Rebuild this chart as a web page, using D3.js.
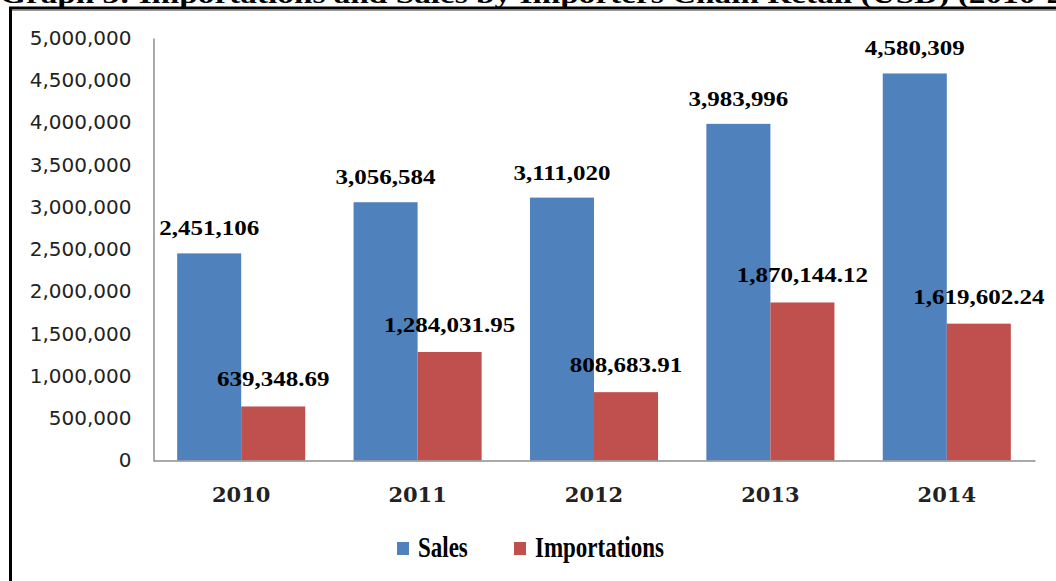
<!DOCTYPE html>
<html>
<head>
<meta charset="utf-8">
<script src="https://d3js.org/d3.v7.min.js"></script>
<style>
  body { margin: 0; background: #fff; overflow: hidden; }
  svg { display: block; }
</style>
</head>
<body>
<svg id="chart"></svg>
<script>
const YEARS = ["2010", "2011", "2012", "2013", "2014"];
const SERIES = ["Sales", "Importations"];
const SALES = [2451106, 3056584, 3111020, 3983996, 4580309];
const IMPORTATIONS = [639348.69, 1284031.95, 808683.91, 1870144.12, 1619602.24];
const Y_TICKS = [0, 500000, 1000000, 1500000, 2000000, 2500000, 3000000, 3500000, 4000000, 4500000, 5000000];
const COLORS = ["#4F81BD", "#C0504D"];
const TITLE = "Graph 3: Importations and Sales by Importers Chain Retail (USD) (2010-2014)";

const WIDTH = 1056;
const HEIGHT = 581;

let svg = d3.select("#chart")
    .attr("width", WIDTH)
    .attr("height", HEIGHT);

// title of the source page, cut off by the top edge like in the scan
svg.append("text")
    .attr("transform", "translate(0,3) scale(1.28,1)")
    .attr("font-family", "Liberation Serif")
    .attr("font-weight", "bold")
    .attr("font-size", "26px")
    .attr("fill", "#000")
    .text(TITLE);

// frame
svg.append("line")
    .attr("x1", 9).attr("x2", WIDTH)
    .attr("y1", 8).attr("y2", 8)
    .attr("stroke", "#000").attr("stroke-width", 3);
svg.append("line")
    .attr("x1", 9).attr("x2", WIDTH)
    .attr("y1", 10.5).attr("y2", 10.5)
    .attr("stroke", "#999").attr("stroke-width", 1);
svg.append("line")
    .attr("x1", 10.5).attr("x2", 10.5)
    .attr("y1", 7).attr("y2", HEIGHT)
    .attr("stroke", "#000").attr("stroke-width", 3);

let x0 = d3.scaleBand()
    .domain(YEARS)
    .range([153, 1035])
    .paddingInner(0.274)
    .paddingOuter(0.137);

let x1 = d3.scaleBand()
    .domain(SERIES)
    .range([0, x0.bandwidth()]);

let y = d3.scaleLinear()
    .domain([0, 5000000])
    .range([460.5, 38]);

let color = d3.scaleOrdinal().domain(SERIES).range(COLORS);

let rows = YEARS.map(function (yr, i) {
    return { year: yr, values: [
        { key: "Sales", value: SALES[i] },
        { key: "Importations", value: IMPORTATIONS[i] }
    ]};
});

// y axis
let yAxis = svg.append("g")
    .attr("transform", "translate(153.5,0)")
    .call(d3.axisLeft(y)
        .tickValues(Y_TICKS)
        .tickSize(0)
        .tickSizeOuter(0)
        .tickPadding(22)
        .tickFormat(d3.format(",")));
yAxis.select(".domain").attr("stroke", "#8c8c8c").attr("stroke-width", 1.5);
yAxis.selectAll("text")
    .attr("font-family", "DejaVu Sans")
    .attr("font-size", "20px")
    .attr("fill", "#222");

// bars
let groups = svg.selectAll(".year")
    .data(rows)
    .enter()
    .append("g")
    .attr("class", "year")
    .attr("transform", function (d) {
        return "translate(" + x0(d.year) + ",0)";
    });

groups.selectAll("rect")
    .data(function (d) { return d.values; })
    .enter()
    .append("rect")
    .attr("x", function (d) { return x1(d.key); })
    .attr("y", function (d) { return y(d.value); })
    .attr("width", x1.bandwidth())
    .attr("height", function (d) { return y(0) - y(d.value); })
    .attr("fill", function (d) { return color(d.key); });

// value labels
let fmtSales = d3.format(",");
let fmtImp = d3.format(",.2f");
groups.selectAll(".lbl")
    .data(function (d) { return d.values; })
    .enter()
    .append("text")
    .attr("class", "lbl")
    .attr("transform", function (d) {
        let cx = x1(d.key) + x1.bandwidth() / 2;
        let off = d.key === "Sales" ? 18 : 20;
        return "translate(" + cx + "," + (y(d.value) - off) + ") scale(1.25,1)";
    })
    .attr("text-anchor", "middle")
    .attr("font-family", "Liberation Serif")
    .attr("font-weight", "bold")
    .attr("font-size", "20px")
    .attr("fill", "#000")
    .text(function (d) {
        return d.key === "Sales" ? fmtSales(d.value) : fmtImp(d.value);
    });

// x axis
let xAxis = svg.append("g")
    .attr("transform", "translate(0,460.5)")
    .call(d3.axisBottom(x0)
        .tickSize(0)
        .tickSizeOuter(0)
        .tickPadding(27));
xAxis.select(".domain").attr("stroke", "#8c8c8c").attr("stroke-width", 1.5);
xAxis.selectAll("text")
    .attr("font-family", "DejaVu Serif")
    .attr("font-weight", "bold")
    .attr("font-size", "21px")
    .attr("fill", "#222");

// legend
let legendPos = [397, 514];
let legend = svg.selectAll(".legend")
    .data(SERIES)
    .enter()
    .append("g")
    .attr("class", "legend")
    .attr("transform", function (d, i) {
        return "translate(" + legendPos[i] + ",542)";
    });
legend.append("rect")
    .attr("width", 12)
    .attr("height", 13)
    .attr("fill", function (d) { return color(d); });
legend.append("text")
    .attr("transform", "translate(21,15) scale(1,1.25)")
    .attr("font-family", "Liberation Serif")
    .attr("font-weight", "bold")
    .attr("font-size", "23px")
    .attr("fill", "#000")
    .text(function (d) { return d; });
</script>
</body>
</html>
